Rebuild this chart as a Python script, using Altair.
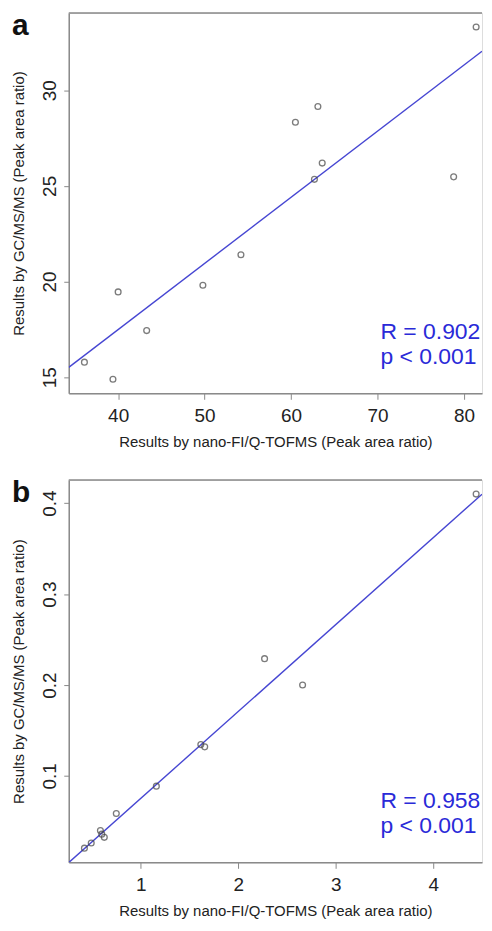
import altair as alt
import pandas as pd

FONT = "Liberation Sans"

# Panel a data
a_x = [36.1, 39.4, 40.0, 43.3, 49.8, 54.2, 60.5, 62.7, 63.1, 63.6, 78.8, 81.4]
a_y = [15.79, 14.9, 19.46, 17.44, 19.81, 21.4, 28.32, 25.34, 29.15, 26.19, 25.47, 33.3]
a_xticks = [40, 50, 60, 70, 80]
a_yticks = [15, 20, 25, 30]
a_stats = ["R = 0.902", "p < 0.001"]

# Panel b data
b_x = [0.422, 0.492, 0.586, 0.60, 0.626, 0.749, 1.16, 1.616, 1.656, 2.27, 2.66, 4.44]
b_y = [0.0206, 0.0263, 0.040, 0.036, 0.0325, 0.0587, 0.0888, 0.1345, 0.132, 0.229, 0.2, 0.41]
b_xticks = [1, 2, 3, 4]
b_yticks = [0.1, 0.2, 0.3, 0.4]
b_stats = ["R = 0.958", "p < 0.001"]

x_title = "Results by nano-FI/Q-TOFMS (Peak area ratio)"
y_title = "Results by GC/MS/MS (Peak area ratio)"

LINE_COLOR = "#4646d2"
TEXT_COLOR = "#2a2ad8"
PT_COLOR = "#444444"
FRAME = "#8a8a8a"

CROP = 422 / 432   # visible fraction of the R plot region (right side is cropped)
W = 415


def rdomain(vals):
    lo, hi = min(vals), max(vals)
    pad = 0.04 * (hi - lo)
    return [lo - pad, hi + pad]


def panel(xs, ys, xticks, yticks, xfmt, yfmt, letter, stats, h):
    df = pd.DataFrame({"x": xs, "y": ys})
    lo, hi = rdomain(xs)
    xdom = [lo, lo + (hi - lo) * CROP]
    ydom = rdomain(ys)
    xenc = alt.X(
        "x:Q",
        scale=alt.Scale(domain=xdom, nice=False, zero=False),
        axis=alt.Axis(
            values=xticks, format=xfmt, title=x_title, grid=False,
            domain=True, domainColor=FRAME, domainWidth=1.5,
            tickColor="#888888", tickSize=6, labelFontSize=19, labelPadding=7,
            labelColor="#222222", titleFontSize=15, titleFontWeight="normal",
            titleColor="#222222", titlePadding=9, labelFont=FONT, titleFont=FONT,
        ),
    )
    yenc = alt.Y(
        "y:Q",
        scale=alt.Scale(domain=ydom, nice=False, zero=False),
        axis=alt.Axis(
            values=yticks, format=yfmt, title=y_title, grid=False,
            domain=True, domainColor=FRAME, domainWidth=1.5,
            tickColor="#888888", tickSize=5, labelFontSize=19, labelPadding=4,
            labelAngle=-90, labelAlign="center", labelBaseline="bottom",
            labelColor="#222222", titleFontSize=15, titleFontWeight="normal",
            titleColor="#222222", titleX=-42, titleAngle=-90,
            labelFont=FONT, titleFont=FONT,
        ),
    )
    one = pd.DataFrame({"k": [0]})
    top = alt.Chart(one).mark_rule(color=FRAME, strokeWidth=1.5).encode(
        x=alt.value(0), x2=alt.value(W), y=alt.value(0)
    )
    pts = alt.Chart(df).mark_point(
        shape="circle", filled=False, size=34, strokeWidth=1.3, color=PT_COLOR
    ).encode(x=xenc, y=yenc)
    reg = alt.Chart(df).transform_regression(
        "x", "y", extent=xdom
    ).mark_line(color=LINE_COLOR, strokeWidth=1.4, clip=True).encode(x="x:Q", y="y:Q")
    lab = alt.Chart(one).mark_text(
        text=letter, font=FONT, fontSize=30, fontWeight="bold", align="left",
        baseline="alphabetic", color="#111111"
    ).encode(x=alt.value(-57), y=alt.value(22))
    s1 = alt.Chart(one).mark_text(
        text=stats[0], font=FONT, fontSize=23, align="left", baseline="alphabetic",
        color=TEXT_COLOR
    ).encode(x=alt.value(313), y=alt.value(h - 55))
    s2 = alt.Chart(one).mark_text(
        text=stats[1], font=FONT, fontSize=23, align="left", baseline="alphabetic",
        color=TEXT_COLOR
    ).encode(x=alt.value(313), y=alt.value(h - 29))
    return alt.layer(reg, pts, top, lab, s1, s2).properties(width=W, height=h)


pa = panel(a_x, a_y, a_xticks, a_yticks, "d", "d", "a", a_stats, 382)
pb = panel(b_x, b_y, b_xticks, b_yticks, "d", ".1f", "b", b_stats, 384)

chart = alt.vconcat(pa, pb, spacing=27).properties(
    padding={"left": 3, "top": 0, "right": 0, "bottom": 0}
).configure_view(stroke=None).configure(background="white")

chart.save("out.html", embed_options={"renderer": "svg", "actions": False})
